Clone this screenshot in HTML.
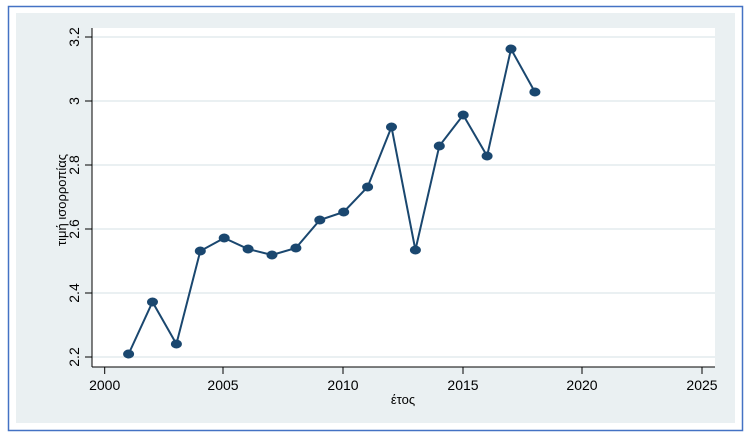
<!DOCTYPE html>
<html><head><meta charset="utf-8"><style>body{margin:0;background:#fff}svg{display:block}</style></head><body>
<svg width="744" height="435" xmlns="http://www.w3.org/2000/svg" font-family="Liberation Sans, DejaVu Sans, sans-serif">
<rect x="0" y="0" width="744" height="435" fill="#fff"/>
<rect x="8.5" y="6.5" width="734" height="424" fill="#fff" stroke="#4472c4" stroke-width="1.5"/>
<rect x="16" y="13" width="719" height="410" fill="#eaf0f2"/>
<rect x="92" y="28" width="623" height="339" fill="#fff"/>
<g stroke="#eaf0f2" stroke-width="2">
<line x1="92" x2="715" y1="37" y2="37"/><line x1="92" x2="715" y1="101" y2="101"/>
<line x1="92" x2="715" y1="165" y2="165"/><line x1="92" x2="715" y1="229" y2="229"/>
<line x1="92" x2="715" y1="293" y2="293"/><line x1="92" x2="715" y1="357" y2="357"/>
</g>
<g stroke="#000" stroke-width="1">
<line x1="92" x2="92" y1="28" y2="367"/><line x1="92" x2="715" y1="367" y2="367"/>
<line x1="85" x2="92" y1="37" y2="37"/><line x1="85" x2="92" y1="101" y2="101"/>
<line x1="85" x2="92" y1="165" y2="165"/><line x1="85" x2="92" y1="229" y2="229"/>
<line x1="85" x2="92" y1="293" y2="293"/><line x1="85" x2="92" y1="357" y2="357"/>
<line x1="104.7" x2="104.7" y1="367" y2="374"/><line x1="223" x2="223" y1="367" y2="374"/>
<line x1="343" x2="343" y1="367" y2="374"/><line x1="463" x2="463" y1="367" y2="374"/>
<line x1="582" x2="582" y1="367" y2="374"/><line x1="702" x2="702" y1="367" y2="374"/>
</g>
<g font-size="14" fill="#000" text-anchor="middle">
<text x="104.7" y="390">2000</text><text x="223" y="390">2005</text><text x="343" y="390">2010</text>
<text x="463" y="390">2015</text><text x="582" y="390">2020</text><text x="702" y="390">2025</text>
<text x="403" y="404" font-size="13">έτος</text>
<text transform="translate(79,37) rotate(-90)">3.2</text>
<text transform="translate(79,101) rotate(-90)">3</text>
<text transform="translate(79,165) rotate(-90)">2.8</text>
<text transform="translate(79,229) rotate(-90)">2.6</text>
<text transform="translate(79,293) rotate(-90)">2.4</text>
<text transform="translate(79,357) rotate(-90)">2.2</text>
<text transform="translate(66,200) rotate(-90)" font-size="13">τιμή ισορροπίας</text>
</g>
<polyline fill="none" stroke="#1a476f" stroke-width="2" points="128.6,354 152.5,302 176.4,344 200.3,251 224.2,238 248.1,249 272,255 295.9,248 319.8,220 343.7,212 367.6,187 391.5,127 415.4,250 439.3,146 463.2,115 487.1,156 511,49 534.9,92"/>
<g fill="#1a476f">
<ellipse cx="128.6" cy="354" rx="5.5" ry="4.5"/><ellipse cx="152.5" cy="302" rx="5.5" ry="4.5"/>
<ellipse cx="176.4" cy="344" rx="5.5" ry="4.5"/><ellipse cx="200.3" cy="251" rx="5.5" ry="4.5"/>
<ellipse cx="224.2" cy="238" rx="5.5" ry="4.5"/><ellipse cx="248.1" cy="249" rx="5.5" ry="4.5"/>
<ellipse cx="272" cy="255" rx="5.5" ry="4.5"/><ellipse cx="295.9" cy="248" rx="5.5" ry="4.5"/>
<ellipse cx="319.8" cy="220" rx="5.5" ry="4.5"/><ellipse cx="343.7" cy="212" rx="5.5" ry="4.5"/>
<ellipse cx="367.6" cy="187" rx="5.5" ry="4.5"/><ellipse cx="391.5" cy="127" rx="5.5" ry="4.5"/>
<ellipse cx="415.4" cy="250" rx="5.5" ry="4.5"/><ellipse cx="439.3" cy="146" rx="5.5" ry="4.5"/>
<ellipse cx="463.2" cy="115" rx="5.5" ry="4.5"/><ellipse cx="487.1" cy="156" rx="5.5" ry="4.5"/>
<ellipse cx="511" cy="49" rx="5.5" ry="4.5"/><ellipse cx="534.9" cy="92" rx="5.5" ry="4.5"/>
</g>
</svg>
</body></html>
